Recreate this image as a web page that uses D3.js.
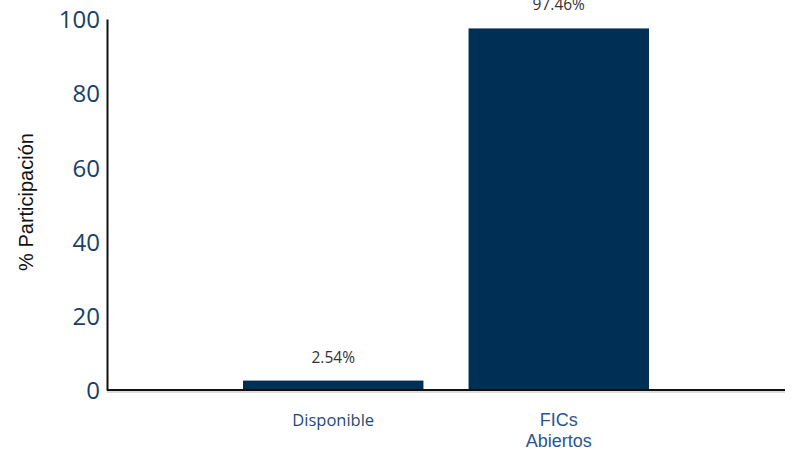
<!DOCTYPE html>
<html><head><meta charset="utf-8">
<script src="https://cdn.jsdelivr.net/npm/d3@7"></script>
<style>body{margin:0;background:#fff}</style>
</head><body>
<svg id="c" width="797" height="456"></svg>
<script>
const categories = [["Disponible"], ["FICs", "Abiertos"]];
const values = [2.54, 97.46];
const valueLabels = ["2.54%", "97.46%"];
const yTicks = [0, 20, 40, 60, 80, 100];

const svg = d3.select("#c");
const x0 = 107, x1 = 785, yTop = 19, yBase = 390;
const keys = categories.map(c => c.join(" "));
const x = d3.scaleBand().domain(keys).range([x0, x1]).paddingInner(0.2).paddingOuter(0.603);
const y = d3.scaleLinear().domain([0, 100]).range([yBase, yTop]);

// bars
svg.selectAll("rect.bar").data(values).enter().append("rect")
  .attr("x", (d, i) => x(keys[i]))
  .attr("width", x.bandwidth())
  .attr("y", d => y(d))
  .attr("height", d => y(0) - y(d))
  .attr("fill", "#002f56");

// value labels
svg.selectAll("text.val").data(values).enter().append("text")
  .attr("x", (d, i) => x(keys[i]) + x.bandwidth() / 2)
  .attr("y", d => y(d) - 18)
  .attr("text-anchor", "middle")
  .attr("font-family", "Open Sans, sans-serif")
  .attr("font-size", 15.5)
  .attr("fill", "#333")
  .text((d, i) => valueLabels[i]);

// y axis
const yAxis = d3.axisLeft(y).tickValues(yTicks).tickSize(0).tickPadding(7);
const gy = svg.append("g").attr("transform", `translate(${x0},0)`).call(yAxis);
gy.select(".domain").attr("stroke", "#111").attr("stroke-width", 2);
gy.selectAll("text").attr("font-family", "Open Sans, sans-serif").attr("font-size", 24)
  .attr("fill", "#17406b").attr("dy", "0.36em");

// x axis line
svg.append("line").attr("x1", x0).attr("x2", x1).attr("y1", yBase).attr("y2", yBase)
  .attr("stroke", "#111").attr("stroke-width", 2);
svg.append("line").attr("x1", x0).attr("x2", x1).attr("y1", yBase + 2).attr("y2", yBase + 2)
  .attr("stroke", "#bbb").attr("stroke-width", 1);

// x labels
categories.forEach((c, i) => {
  const t = svg.append("text")
    .attr("x", x(keys[i]) + x.bandwidth() / 2)
    .attr("text-anchor", "middle")
    .attr("font-family", i === 0 ? "Open Sans, sans-serif" : "Liberation Sans, Arial, sans-serif")
    .attr("font-size", i === 0 ? 16.5 : 18)
    .attr("fill", i === 0 ? "#1f4a78" : "#2b5592");
  c.forEach((line, j) => {
    t.append("tspan").attr("x", x(keys[i]) + x.bandwidth() / 2)
      .attr("y", 426 + j * 21).text(line);
  });
});

// y title
svg.append("text")
  .attr("transform", "translate(33,202) rotate(-90)")
  .attr("text-anchor", "middle")
  .attr("font-family", "Liberation Sans, Arial, sans-serif")
  .attr("font-size", 20)
  .attr("fill", "#111")
  .text("% Participación");
</script>
</body></html>
